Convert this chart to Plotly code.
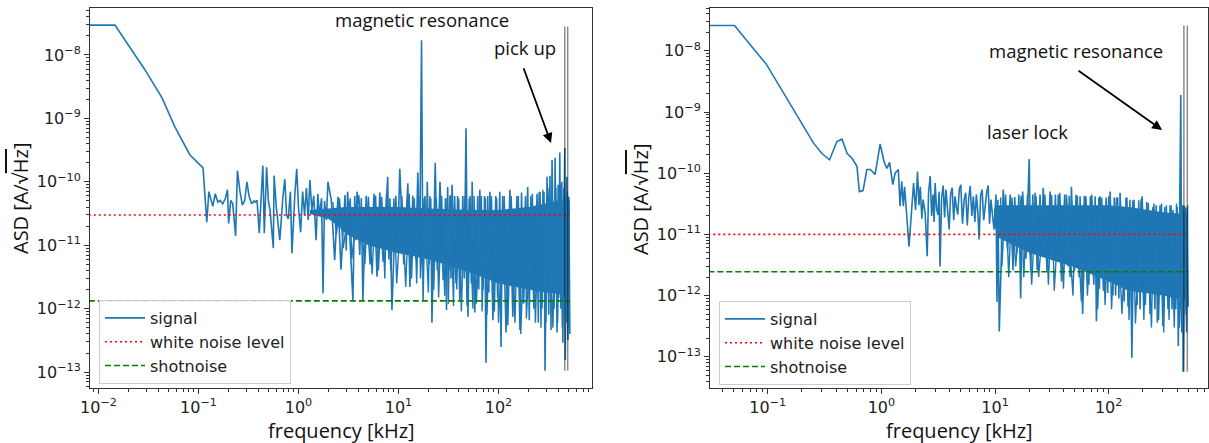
import plotly.graph_objects as go
import numpy as np

# ---------------- LEFT PANEL DATA ----------------
left_smooth_f = [0.008, 0.0146, 0.0292, 0.0432, 0.0582, 0.0822, 0.111]
left_smooth_asd = [2.95e-8, 2.95e-8, 5.8e-9, 2.1e-9, 7.3e-10, 2.65e-10, 1.66e-10]

left_sparse_f = [0.121, 0.127, 0.133, 0.139, 0.147, 0.156, 0.164, 0.175, 0.186, 0.195,
                 0.2, 0.21, 0.22, 0.235, 0.245, 0.26, 0.275, 0.29, 0.305, 0.32,
                 0.34, 0.36, 0.37, 0.385, 0.405, 0.42, 0.44, 0.455, 0.48, 0.5,
                 0.52, 0.56, 0.57, 0.6, 0.65, 0.7, 0.73, 0.76, 0.79, 0.83,
                 0.86, 0.92, 0.96, 1.0, 1.05, 1.1, 1.15, 1.2, 1.25, 1.3,
                 1.36, 1.42, 1.5, 1.56, 1.62, 1.7, 1.76, 1.82, 1.9, 1.97]
left_sparse_asd = [2.3e-11, 7e-11, 5.5e-11, 4.1e-11, 6.5e-11, 4.8e-11, 5.1e-11, 4.5e-11, 5.5e-11, 7.5e-11,
                   2.2e-11, 5.1e-11, 4.5e-11, 1.4e-11, 1.5e-10, 7e-11, 4.3e-11, 5.1e-11, 1.0e-10, 6e-11,
                   4.5e-11, 5e-11, 4.8e-11, 5.1e-11, 1.55e-11, 4e-11, 1.8e-10, 1.55e-11, 1.7e-10, 5e-11,
                   3.5e-11, 9e-12, 1.25e-10, 4e-11, 1.2e-11, 6e-11, 1.1e-10, 3e-11, 2.6e-11, 7e-11,
                   7.5e-12, 6.5e-11, 1.6e-10, 4e-11, 1.6e-11, 7e-11, 3e-11, 8e-11, 2.5e-11, 1.07e-10,
                   3.5e-11, 6e-11, 1.2e-11, 6.5e-11, 3e-11, 5.5e-11, 1.75e-12, 5e-11, 2.5e-11, 1.0e-10]

left_dense_f = [2.13, 2.3, 2.48, 2.66, 2.92, 3.0, 3.1, 3.5, 3.65, 3.75,
                3.85, 4.1, 4.25, 4.4, 4.75, 5.2, 5.7, 6.1, 6.5, 7.0,
                7.8, 8.0, 8.2, 8.6, 9.4, 9.8, 10.3, 11.3, 12.4, 13.0,
                13.9, 14.9, 15.6, 16.3, 17.0, 17.6, 18.4, 18.9, 19.4, 20.2,
                21.0, 21.6, 23.3, 24.4, 26.0, 28.0, 29.5, 30.2, 31.0, 32.0,
                32.7, 33.5, 34.3, 37.6, 39.0, 41.0, 44.0, 45.5, 47.3, 49.5,
                52.0, 53.5, 54.5, 58.0, 62.0, 63.5, 65.0, 70.0, 72.5, 75.0,
                78.0, 80.0, 82.0, 88.0, 94.0, 98.0, 103, 106, 110, 119,
                130, 139, 153, 164, 170, 178, 196, 203, 211, 226,
                243, 250, 260, 272, 285, 292, 306, 318, 327, 335,
                343, 360, 368, 385, 395, 400, 410, 420, 430, 440,
                460, 465, 482, 495, 505, 517]
left_dense_asd = [5.1e-11, 5.8e-12, 5.8e-11, 4.1e-12, 6.2e-11, 8.3e-12, 7e-11, 1.37e-12, 6e-11, 1.2e-11,
                  7e-11, 7e-12, 5.5e-11, 1.37e-12, 6e-11, 5e-12, 6.5e-11, 3.2e-12, 6.8e-11, 5.5e-12,
                  1.2e-10, 6e-12, 5.5e-11, 9.5e-13, 6e-11, 8e-12, 1.6e-10, 5e-12, 9.5e-11, 2.2e-12,
                  6e-11, 6e-12, 1.4e-10, 8e-12, 1.7e-8, 1.37e-12, 6e-11, 6e-12, 1.0e-10, 5e-12,
                  5.5e-11, 6e-13, 2.0e-10, 4e-12, 1.0e-10, 2.8e-12, 5.5e-11, 9.5e-13, 8.3e-11, 4e-12,
                  6e-11, 3e-12, 9e-11, 2.5e-12, 6e-11, 1.37e-12, 6e-11, 3e-12, 7e-10, 7.5e-13,
                  6e-11, 2.5e-12, 1.0e-10, 8.7e-13, 6e-11, 2e-12, 7.5e-11, 2e-12, 6e-11, 1.4e-13,
                  6e-11, 1.8e-12, 7e-11, 6.6e-13, 6e-11, 1.5e-12, 7e-11, 2.5e-13, 6e-11, 4.2e-13,
                  7.5e-11, 7.5e-13, 6e-11, 4.6e-13, 6.8e-11, 1.2e-12, 8.3e-11, 6.6e-13, 6e-11, 1e-12,
                  6.5e-11, 6e-13, 7e-11, 1e-12, 7e-11, 1.05e-13, 1.2e-10, 8e-13, 1.25e-10, 4.6e-13,
                  2.2e-10, 1e-12, 2.4e-10, 4.2e-13, 9e-11, 1.5e-12, 2.9e-10, 1e-12, 1.0e-10, 2.9e-13,
                  3.4e-10, 1.55e-13, 1.2e-10, 3.2e-13, 5.8e-11, 4e-13]

# extra fine bins of the same signal, read between the larger spikes
left_texture_f = [2.2, 2.4, 2.57, 2.8, 3.3, 3.4, 4.0, 4.6, 5.0, 5.45,
                  5.9, 6.3, 6.8, 7.3, 7.6, 8.4, 9.0, 9.6, 10.8, 11.8,
                  12.8, 13.5, 14.4, 15.2, 16.0, 16.6, 18.0, 19.9, 20.6, 22.5,
                  23.9, 25.2, 27.0, 29.0, 30.6, 31.5, 33.1, 35.5, 36.5, 38.3,
                  40.0, 42.5, 46.2, 48.4, 50.8, 55.5, 57.0, 60.0, 67.5, 68.5,
                  74.0, 76.5, 85.0, 91.0, 96.0, 100, 114, 124, 134, 146,
                  158, 167, 186, 190, 218, 234, 255, 266, 278, 298,
                  312, 350, 375, 390, 415, 435, 450, 475, 488, 510]
left_texture_asd = [4.8e-11, 1.5e-11, 5.5e-11, 9e-12, 5.5e-11, 6e-12, 6.2e-11, 5e-12, 5.8e-11, 3.5e-12,
                    6e-11, 4e-12, 5.8e-11, 3e-12, 6.5e-11, 4e-12, 5.5e-11, 2.5e-12, 6e-11, 2.2e-12,
                    6.5e-11, 3e-12, 5.5e-11, 2.5e-12, 5.8e-11, 3e-12, 5.5e-11, 1.8e-12, 6e-11, 2e-12,
                    5.5e-11, 1.5e-12, 6e-11, 1.6e-12, 5.5e-11, 1.2e-12, 6.2e-11, 1.1e-12, 6e-11, 2e-12,
                    5.5e-11, 9e-13, 6e-11, 1.1e-12, 5.5e-11, 1e-12, 6e-11, 1.2e-12, 6e-11, 9e-13,
                    5.5e-11, 8e-13, 6e-11, 9e-13, 5.5e-11, 6e-13, 6e-11, 5.5e-13, 6e-11, 6e-13,
                    6e-11, 4e-13, 6e-11, 7e-13, 6.5e-11, 6e-13, 7e-11, 5e-13, 7.5e-11, 6e-13,
                    8e-11, 5e-13, 8e-11, 6e-13, 9e-11, 5e-13, 8e-11, 6e-13, 7e-11, 5e-13]

left_core_f = [1.3, 2.0, 2.5, 3.0, 5.0, 10.0, 20.0, 50.0, 100.0, 200.0, 300.0, 400.0, 480.0, 517.0]
left_core_top = [3.6e-11, 3.8e-11, 4e-11, 4e-11, 4e-11, 4e-11, 3.8e-11, 3.6e-11, 3.6e-11, 4e-11,
                 4.6e-11, 5.2e-11, 5.5e-11, 5e-11]
left_core_bottom = [3.1e-11, 2.6e-11, 2e-11, 1.5e-11, 1e-11, 7.5e-12, 6e-12, 3.8e-12, 2.5e-12, 2e-12,
                    1.8e-12, 1.7e-12, 1.6e-12, 1.6e-12]

left_white_level = 3.0e-11
left_shot_level = 1.33e-12
left_marker_f = [460, 492]
left_marker_range = [2.8e-8, 1.05e-13]

# ---------------- RIGHT PANEL DATA ----------------
right_smooth_f = [0.03, 0.051, 0.098, 0.18, 0.253, 0.3, 0.35, 0.406, 0.45, 0.5,
                  0.55, 0.61, 0.64, 0.69, 0.745, 0.8, 0.88, 0.975, 1.06, 1.12,
                  1.18, 1.26, 1.32, 1.41, 1.46, 1.51, 1.56, 1.6, 1.75]
right_smooth_asd = [2.6e-8, 2.6e-8, 5.9e-9, 9e-10, 3.1e-10, 2.1e-10, 1.66e-10, 3.3e-10, 3.6e-10, 2.1e-10,
                    1.77e-10, 1.3e-10, 5e-11, 5.2e-11, 1.15e-10, 1.15e-10, 9.5e-11, 3.0e-10, 1.5e-10, 1.2e-10,
                    1.5e-10, 6.5e-11, 1.0e-10, 1.15e-10, 2.9e-11, 7.4e-11, 2.9e-11, 6e-11, 6.3e-12]

right_sparse_f = [1.92, 2.0, 2.08, 2.14, 2.2, 2.27, 2.33, 2.43, 2.53, 2.6,
                  2.69, 2.77, 2.85, 2.91, 2.97, 3.06, 3.15, 3.22, 3.28, 3.39,
                  3.5, 3.6, 3.7, 3.82, 3.95, 4.07, 4.2, 4.33, 4.45, 4.57,
                  4.7, 4.85, 5.0, 5.17, 5.35, 5.52, 5.7, 5.87, 6.05, 6.25,
                  6.45, 6.65, 6.85, 7.05, 7.25, 7.47, 7.7, 7.95, 8.2, 8.45,
                  8.7, 8.95, 9.2, 9.5, 9.8]
right_sparse_asd = [6.9e-11, 2.5e-11, 1.07e-10, 3e-11, 6e-11, 1.8e-11, 3.7e-11, 2.2e-11, 4.4e-12, 4.8e-11,
                    9e-11, 2e-11, 4.5e-11, 1.6e-11, 6.9e-11, 2.6e-11, 2.1e-11, 5e-11, 3e-12, 4e-11,
                    6.3e-11, 1.9e-11, 5.4e-11, 2.5e-11, 1.2e-11, 4.6e-11, 5.8e-11, 1.7e-11, 4.2e-11, 2.8e-11,
                    2.1e-11, 5.5e-11, 6.5e-11, 1.5e-11, 3.7e-11, 4.8e-11, 1.4e-11, 3.9e-11, 6.2e-11, 2e-11,
                    4.2e-11, 1.6e-11, 4.5e-11, 2.4e-11, 8.3e-12, 4.4e-11, 5.4e-11, 1.7e-11, 3.3e-11, 4.9e-11,
                    6.3e-11, 1.5e-11, 3.7e-11, 2.2e-11, 1.2e-11]

right_dense_f = [10.2, 10.4, 10.6, 10.9, 11.8, 12.9, 13.6, 14.4, 14.9, 15.6,
                 16.2, 16.8, 17.5, 18.7, 20.0, 20.6, 21.5, 22.0, 22.5, 23.5,
                 24.9, 25.8, 26.5, 28.7, 30.5, 32.6, 34.0, 35.0, 36.0, 38.5,
                 41.0, 44.0, 45.0, 45.7, 47.0, 50.0, 53.0, 55.0, 56.0, 59.0,
                 63.0, 67.0, 69.0, 74.0, 76.0, 78.0, 82.0, 83.0, 84.0, 90.0,
                 95.0, 98.0, 103, 109, 112, 115, 120, 123, 126, 137,
                 142, 148, 154, 160, 167, 178, 184, 189, 197, 210,
                 223, 231, 245, 255, 262, 268, 283, 300, 312, 333,
                 347, 361, 368, 390, 400, 410, 431, 440, 445, 452,
                 471, 480, 490, 500]
right_dense_asd = [4.5e-11, 7.9e-13, 3.7e-11, 2.6e-13, 5.4e-11, 5.6e-12, 4.5e-11, 2.6e-12, 4.1e-11, 5e-12,
                   4.5e-11, 9e-13, 5e-11, 4e-12, 1.7e-10, 2.5e-12, 4.5e-11, 5e-12, 4.8e-11, 2.6e-12,
                   4.5e-11, 5e-12, 5.8e-11, 2.5e-12, 5e-11, 4e-12, 4.5e-11, 4e-12, 4.5e-11, 1.7e-12,
                   4.5e-11, 3e-12, 4.3e-11, 2e-12, 6e-11, 2.5e-12, 4.3e-11, 2e-12, 4.2e-11, 5e-13,
                   4.2e-11, 1.5e-12, 4.2e-11, 1.5e-12, 4.2e-11, 3.8e-13, 4e-11, 1.3e-12, 4.2e-11, 1.2e-12,
                   4e-11, 1.1e-12, 5e-11, 1e-12, 4e-11, 1e-12, 4e-11, 9e-13, 4.8e-11, 8e-13,
                   4e-11, 6.6e-13, 3.7e-11, 9.6e-14, 3.7e-11, 7e-13, 3.6e-11, 6e-13, 4.2e-11, 7e-13,
                   3.3e-11, 5e-13, 2.8e-11, 6e-13, 3e-11, 3.6e-13, 3e-11, 3.2e-13, 2.8e-11, 6e-13,
                   3e-11, 6e-13, 2.5e-11, 6e-13, 2.8e-11, 1.5e-13, 1.9e-9, 2.5e-13, 3e-11, 5.7e-14,
                   2.8e-11, 5e-13, 2.7e-11, 6.6e-13]

right_texture_f = [11.2, 11.5, 12.4, 13.2, 14.1, 15.2, 17.0, 17.9, 19.3, 21.0,
                   23.0, 24.2, 27.5, 29.5, 31.5, 33.2, 37.2, 40.0, 42.5, 48.5,
                   51.5, 57.5, 61.0, 65.0, 71.0, 80.0, 87.0, 93.0, 100, 106,
                   117, 131, 145, 151, 163, 172, 193, 204, 216, 238,
                   250, 275, 292, 305, 322, 340, 354, 378, 395, 420,
                   460, 485, 495]
right_texture_asd = [4e-11, 3e-12, 4.5e-11, 2e-12, 4e-11, 3e-12, 4.3e-11, 2e-12, 4.5e-11, 1.5e-12,
                     4.2e-11, 2e-12, 4.5e-11, 1.5e-12, 4.4e-11, 1.2e-12, 4.8e-11, 1.3e-12, 4.5e-11, 1e-12,
                     4.5e-11, 8e-13, 4.3e-11, 1e-12, 4.5e-11, 6e-13, 4e-11, 7e-13, 4.2e-11, 6e-13,
                     4e-11, 5e-13, 4e-11, 4e-13, 3.6e-11, 3.5e-13, 3.8e-11, 4e-13, 3.4e-11, 3e-13,
                     3.2e-11, 4e-13, 3.2e-11, 2.5e-13, 3e-11, 4e-13, 3e-11, 3e-13, 3.2e-11, 3e-13,
                     3e-11, 2.5e-13, 3e-11]

right_core_f = [9.8, 10.5, 20.0, 50.0, 100.0, 150.0, 200.0, 300.0, 400.0, 500.0]
right_core_top = [2.6e-11, 3.0e-11, 3.0e-11, 3.0e-11, 3.0e-11, 2.8e-11, 2.6e-11, 2.3e-11, 2.2e-11, 2.2e-11]
right_core_bottom = [1.6e-11, 9e-12, 5e-12, 2.9e-12, 1.7e-12, 1.2e-12, 1.1e-12, 1e-12, 9e-13, 9e-13]

right_white_level = 1.0e-11
right_shot_level = 2.45e-12
right_marker_f = [459, 492]
right_marker_range = [2.6e-8, 5.7e-14]

for a, b in [(left_sparse_f, left_sparse_asd), (left_dense_f, left_dense_asd),
             (left_texture_f, left_texture_asd), (right_texture_f, right_texture_asd),
             (right_smooth_f, right_smooth_asd), (right_sparse_f, right_sparse_asd),
             (right_dense_f, right_dense_asd), (left_core_f, left_core_top),
             (left_core_f, left_core_bottom), (right_core_f, right_core_top),
             (right_core_f, right_core_bottom)]:
    assert len(a) == len(b), (len(a), len(b))

# tick labels
y_exps = [-13, -12, -11, -10, -9, -8]
y_ticktext = ['10<sup>−13</sup>', '10<sup>−12</sup>', '10<sup>−11</sup>', '10<sup>−10</sup>',
              '10<sup>−9</sup>', '10<sup>−8</sup>']
left_x_exps = [-2, -1, 0, 1, 2]
left_x_ticktext = ['10<sup>−2</sup>', '10<sup>−1</sup>', '10<sup>0</sup>', '10<sup>1</sup>', '10<sup>2</sup>']
right_x_exps = [-1, 0, 1, 2]
right_x_ticktext = ['10<sup>−1</sup>', '10<sup>0</sup>', '10<sup>1</sup>', '10<sup>2</sup>']

BLUE = '#1f77b4'
W, H = 1209, 443

fig = go.Figure()


def add_panel(xa, ya, leg, smooth_f, smooth_a, sparse_f, sparse_a, dense_f, dense_a,
              tex_f, tex_a, core_f, core_top, core_bot, white, shot, marker_f, marker_rng):
    fig.add_trace(go.Scatter(x=list(core_f) + list(core_f[::-1]),
                             y=list(core_top) + list(core_bot[::-1]),
                             fill='toself', fillcolor=BLUE, mode='lines',
                             line=dict(width=0, color=BLUE), showlegend=False,
                             hoverinfo='skip', xaxis=xa, yaxis=ya))
    fig.add_trace(go.Scatter(x=tex_f, y=tex_a, mode='lines', showlegend=False, hoverinfo='skip',
                             line=dict(color=BLUE, width=1.4), xaxis=xa, yaxis=ya))
    sig_f = list(smooth_f) + list(sparse_f) + list(dense_f)
    sig_a = list(smooth_a) + list(sparse_a) + list(dense_a)
    fig.add_trace(go.Scatter(x=sig_f, y=sig_a, mode='lines', name='signal',
                             line=dict(color=BLUE, width=1.6), xaxis=xa, yaxis=ya, legend=leg))
    fmin, fmax = sig_f[0], sig_f[-1]
    fig.add_trace(go.Scatter(x=[fmin, fmax], y=[white, white], mode='lines',
                             name='white noise level',
                             line=dict(color='red', width=1.6, dash='2px,3px'),
                             xaxis=xa, yaxis=ya, legend=leg))
    fig.add_trace(go.Scatter(x=[fmin, fmax], y=[shot, shot], mode='lines', name='shotnoise',
                             line=dict(color='green', width=1.6, dash='6px,3px'),
                             xaxis=xa, yaxis=ya, legend=leg))
    mx, my = [], []
    for f in marker_f:
        mx += [f, f, None]
        my += [marker_rng[0], marker_rng[1], None]
    fig.add_trace(go.Scatter(x=mx, y=my, mode='lines', showlegend=False, hoverinfo='skip',
                             line=dict(color='rgba(0,0,0,0.45)', width=1.5), xaxis=xa, yaxis=ya))


add_panel('x', 'y', 'legend', left_smooth_f, left_smooth_asd, left_sparse_f, left_sparse_asd,
          left_dense_f, left_dense_asd, left_texture_f, left_texture_asd,
          left_core_f, left_core_top, left_core_bottom,
          left_white_level, left_shot_level, left_marker_f, left_marker_range)
add_panel('x2', 'y2', 'legend2', right_smooth_f, right_smooth_asd, right_sparse_f, right_sparse_asd,
          right_dense_f, right_dense_asd, right_texture_f, right_texture_asd,
          right_core_f, right_core_top, right_core_bottom,
          right_white_level, right_shot_level, right_marker_f, right_marker_range)


def minor_vals(e0, e1):
    return [m * 10.0 ** e for e in range(e0, e1) for m in range(2, 10)]


AX = dict(type='log', showline=True, mirror=True, linecolor='#333', linewidth=1,
          ticks='outside', ticklen=5, tickwidth=1, tickcolor='#333', showgrid=False,
          zeroline=False, tickmode='array', automargin=False,
          tickfont=dict(family='DejaVu Sans', size=16, color='#222'))
MINOR = dict(ticks='outside', ticklen=3, tickwidth=0.8, tickcolor='#333', showgrid=False)

LEG = dict(xanchor='left', yanchor='top', bordercolor='#cccccc', borderwidth=1,
           bgcolor='rgba(255,255,255,0.85)', itemwidth=40,
           font=dict(family='DejaVu Sans', size=16, color='#222'), tracegroupgap=0)

ydom = [1 - 388 / H, 1 - 8 / H]
fig.update_layout(
    template='none',
    width=W, height=H, margin=dict(l=0, r=0, t=0, b=0, autoexpand=False),
    paper_bgcolor='white', plot_bgcolor='white',
    xaxis=dict(AX, domain=[90 / W, 592 / W], anchor='y', range=[-2.085, 2.935],
               tickvals=[10.0 ** e for e in left_x_exps], ticktext=left_x_ticktext,
               minor=dict(MINOR, tickvals=minor_vals(-3, 3))),
    yaxis=dict(AX, domain=ydom, anchor='x', range=[-13.25, -7.26],
               tickvals=[10.0 ** e for e in y_exps], ticktext=y_ticktext,
               minor=dict(MINOR, tickvals=minor_vals(-14, -7))),
    xaxis2=dict(AX, domain=[710 / W, 1208 / W], anchor='y2', range=[-1.508, 2.874],
                tickvals=[10.0 ** e for e in right_x_exps], ticktext=right_x_ticktext,
                minor=dict(MINOR, tickvals=minor_vals(-2, 3))),
    yaxis2=dict(AX, domain=ydom, anchor='x2', range=[-13.51, -7.30],
                tickvals=[10.0 ** e for e in y_exps], ticktext=y_ticktext,
                minor=dict(MINOR, tickvals=minor_vals(-14, -7))),
    legend=dict(LEG, x=99 / W, y=1 - 300 / H),
    legend2=dict(LEG, x=719 / W, y=1 - 301 / H),
)

TF = dict(family='Open Sans', size=18.5, color='#111')
LF = dict(family='Open Sans', size=20, color='#111')
L = np.log10
ylabel = 'ASD [A/√<span style="text-decoration:overline">Hz</span>]'
annotations = [
    dict(text='magnetic resonance', x=L(17.2), y=L(3.56e-8), xref='x', yref='y', showarrow=False, font=TF),
    dict(text='pick up', x=L(184), y=L(1.29e-8), xref='x', yref='y', showarrow=False, font=TF),
    dict(text='', x=L(335), y=L(4.1e-10), xref='x', yref='y', ax=L(176), ay=L(6.5e-9),
         axref='x', ayref='y', showarrow=True, arrowhead=2, arrowsize=1.1, arrowwidth=1.8, arrowcolor='black'),
    dict(text='magnetic resonance', x=L(51.6), y=L(1.0e-8), xref='x2', yref='y2', showarrow=False, font=TF),
    dict(text='laser lock', x=L(19.2), y=L(4.8e-10), xref='x2', yref='y2', showarrow=False, font=TF),
    dict(text='', x=L(295), y=L(5.1e-10), xref='x2', yref='y2', ax=L(52.7), ay=L(4.9e-9),
         axref='x2', ayref='y2', showarrow=True, arrowhead=2, arrowsize=1.1, arrowwidth=1.8, arrowcolor='black'),
    dict(text='frequency [kHz]', x=341 / W, y=1 - 430 / H, xref='paper', yref='paper', showarrow=False,
         xanchor='center', yanchor='middle', font=LF),
    dict(text='frequency [kHz]', x=959 / W, y=1 - 430 / H, xref='paper', yref='paper', showarrow=False,
         xanchor='center', yanchor='middle', font=LF),
    dict(text=ylabel, x=20 / W, y=1 - 198 / H, xref='paper', yref='paper', showarrow=False,
         xanchor='center', yanchor='middle', textangle=-90, font=LF),
    dict(text=ylabel, x=640 / W, y=1 - 199 / H, xref='paper', yref='paper', showarrow=False,
         xanchor='center', yanchor='middle', textangle=-90, font=LF),
]
fig.update_layout(annotations=annotations)

fig.write_html('out.html', config={'displayModeBar': False},
               post_script="document.body.style.margin='0px';document.body.style.overflow='hidden';")
